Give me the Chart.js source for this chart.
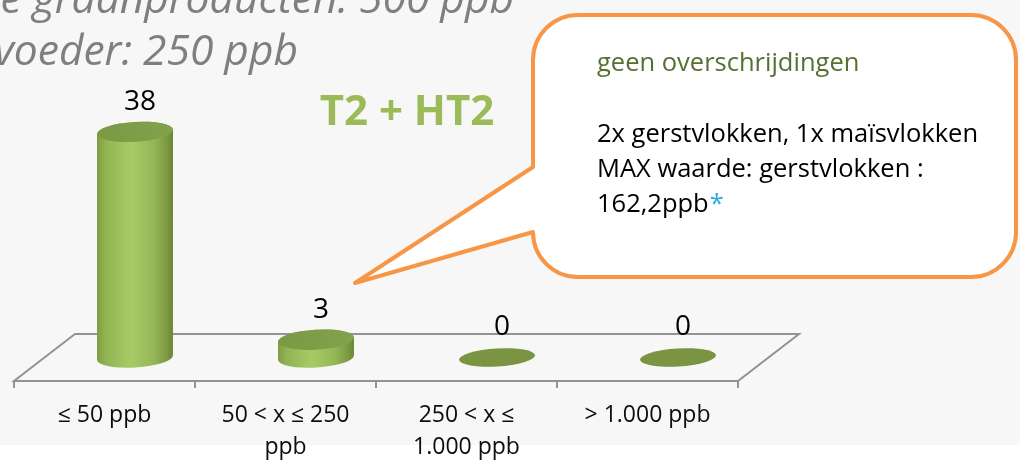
<!DOCTYPE html>
<html>
<head>
<meta charset="utf-8">
<script src="https://cdn.jsdelivr.net/npm/chart.js@4/dist/chart.umd.min.js"></script>
<style>
  html, body { margin: 0; padding: 0; background: #ffffff; overflow: hidden; }
  canvas { display: block; }
</style>
</head>
<body>
<canvas id="c" width="1020" height="460"></canvas>
<script>
// ---------- data ----------
const categories = [['≤ 50 ppb'], ['50 < x ≤ 250', 'ppb'], ['250 < x ≤', '1.000 ppb'], ['> 1.000 ppb']];
const counts = [38, 3, 0, 0];
const yRange = [0, 40];
const headerLines = ['Overige graanproducten: 500 ppb', 'Diervoeder: 250 ppb'];
const chartTitle = 'T2 + HT2';
const calloutHeading = 'geen overschrijdingen';
const calloutLines = ['2x gerstvlokken, 1x maïsvlokken', 'MAX waarde: gerstvlokken :', '162,2ppb'];
const calloutMark = '*';

// ---------- style ----------
const BG = '#f7f7f7';
const FLOOR = '#939393';
const DEPTH_X = 61, DEPTH_Y = 47;
const ELL_RY = 10, ELL_ROT = -0.06;
const FONT = '"Open Sans", "DejaVu Sans", sans-serif';

function ellipsePath(ctx, cx, cy, rx, ry) {
  ctx.beginPath();
  ctx.ellipse(cx, cy, rx, ry, ELL_ROT, 0, Math.PI * 2);
  ctx.closePath();
}

const scene = {
  id: 'scene',
  beforeDraw(chart) {
    const ctx = chart.ctx, W = chart.width, H = chart.height;
    const xs = chart.scales.x, ys = chart.scales.y;
    ctx.save();
    ctx.fillStyle = '#ffffff';
    ctx.fillRect(0, 0, W, H);
    ctx.fillStyle = BG;
    ctx.fillRect(0, 0, W, 445);

    // 3D floor
    const base = ys.getPixelForValue(0);
    const L = xs.left, R = xs.right;
    const yf = base + DEPTH_Y / 2, yb = base - DEPTH_Y / 2;
    ctx.strokeStyle = FLOOR;
    ctx.lineWidth = 2;
    ctx.lineJoin = 'miter';
    ctx.beginPath();
    ctx.moveTo(L, yf);
    ctx.lineTo(L + DEPTH_X, yb);
    ctx.lineTo(R + DEPTH_X, yb);
    ctx.lineTo(R, yf);
    ctx.closePath();
    ctx.stroke();
    // ticks at category boundaries
    const n = categories.length;
    const cw = (R - L) / n;
    ctx.beginPath();
    for (let i = 0; i <= n; i++) {
      const x = (i < n ? xs.getPixelForValue(i) - cw / 2 : xs.getPixelForValue(n - 1) + cw / 2);
      ctx.moveTo(x, yf);
      ctx.lineTo(x, yf + 7);
    }
    ctx.stroke();

    // category labels
    ctx.fillStyle = '#0d0d0d';
    ctx.font = '23px ' + FONT;
    ctx.textAlign = 'center';
    ctx.textBaseline = 'middle';
    categories.forEach((lines, i) => {
      const x = xs.getPixelForValue(i);
      lines.forEach((t, k) => ctx.fillText(t, x, 415 + k * 32));
    });
    ctx.restore();
  },
  afterDatasetsDraw(chart) {
    const ctx = chart.ctx;
    const meta = chart.getDatasetMeta(0);
    ctx.save();
    meta.data.forEach((el, i) => {
      const v = counts[i];
      const cx = el.x + DEPTH_X / 2;
      const rx = el.width / 2;
      const top = el.y, bottom = el.base;
      if (v > 0) {
        const g = ctx.createLinearGradient(cx - rx, 0, cx + rx, 0);
        g.addColorStop(0, '#7f9c44');
        g.addColorStop(0.12, '#93b453');
        g.addColorStop(0.45, '#a8ca66');
        g.addColorStop(0.75, '#95b655');
        g.addColorStop(0.92, '#7c9942');
        g.addColorStop(1, '#6a8534');
        ctx.beginPath();
        ctx.moveTo(cx - rx, top);
        ctx.lineTo(cx - rx, bottom);
        ctx.ellipse(cx, bottom, rx, ELL_RY, ELL_ROT, Math.PI, 0, true);
        ctx.lineTo(cx + rx, top);
        ctx.ellipse(cx, top, rx, ELL_RY, ELL_ROT, 0, Math.PI, true);
        ctx.closePath();
        ctx.fillStyle = g;
        ctx.fill();
        const gt = ctx.createLinearGradient(cx - rx, top, cx + rx, top);
        gt.addColorStop(0, '#7b9843');
        gt.addColorStop(1, '#84a14b');
        ellipsePath(ctx, cx, top, rx, ELL_RY);
        ctx.fillStyle = gt;
        ctx.fill();
      } else {
        ellipsePath(ctx, cx, bottom, rx, ELL_RY - 1);
        ctx.fillStyle = '#7a9441';
        ctx.fill();
      }
      // value label
      ctx.fillStyle = '#000000';
      ctx.font = '28px ' + FONT;
      ctx.textAlign = 'center';
      ctx.textBaseline = 'middle';
      ctx.fillText(String(v), cx + 5, top - 30);
    });
    ctx.restore();
  },
  afterDraw(chart) {
    const ctx = chart.ctx;
    ctx.save();
    // header text (partly cut off)
    ctx.fillStyle = '#7f7f7f';
    ctx.font = 'italic 42.5px ' + FONT;
    ctx.textAlign = 'right';
    ctx.textBaseline = 'alphabetic';
    ctx.fillText(headerLines[0], 514, 13);
    ctx.fillText(headerLines[1], 298, 65);

    // chart title
    ctx.fillStyle = '#9bbb59';
    ctx.font = 'bold 42px ' + FONT;
    ctx.textAlign = 'center';
    ctx.fillText(chartTitle, 407, 125);

    // callout
    const x0 = 533, y0 = 15, x1 = 1016, y1 = 277, r = 45;
    ctx.beginPath();
    ctx.moveTo(x0 + r, y0);
    ctx.lineTo(x1 - r, y0);
    ctx.arcTo(x1, y0, x1, y0 + r, r);
    ctx.lineTo(x1, y1 - r);
    ctx.arcTo(x1, y1, x1 - r, y1, r);
    ctx.lineTo(x0 + r, y1);
    ctx.arcTo(x0, y1, x0, y1 - r, r);
    ctx.lineTo(355, 283);
    ctx.lineTo(x0, 167);
    ctx.lineTo(x0, y0 + r);
    ctx.arcTo(x0, y0, x0 + r, y0, r);
    ctx.closePath();
    ctx.fillStyle = '#ffffff';
    ctx.fill();
    ctx.strokeStyle = '#f79646';
    ctx.lineWidth = 4;
    ctx.lineJoin = 'round';
    ctx.stroke();

    ctx.textAlign = 'left';
    ctx.font = '25.5px ' + FONT;
    ctx.fillStyle = '#557030';
    ctx.fillText(calloutHeading, 597, 71);
    ctx.fillStyle = '#000000';
    calloutLines.forEach((t, k) => ctx.fillText(t, 597, 142 + k * 35));
    const w = ctx.measureText(calloutLines[calloutLines.length - 1]).width;
    ctx.fillStyle = '#29a9de';
    ctx.fillText(calloutMark, 597 + w + 1, 142 + (calloutLines.length - 1) * 35);
    ctx.restore();
  }
};

function build() {
  new Chart(document.getElementById('c'), {
    type: 'bar',
    data: {
      labels: categories,
      datasets: [{
        data: counts,
        backgroundColor: 'rgba(0,0,0,0)',
        borderWidth: 0,
        barPercentage: 0.42,
        categoryPercentage: 1
      }]
    },
    options: {
      responsive: false,
      devicePixelRatio: 1,
      animation: false,
      layout: { padding: { left: 14, right: 282, top: 120, bottom: 102.5 } },
      plugins: { legend: { display: false }, tooltip: { enabled: false } },
      scales: {
        x: { display: false },
        y: { display: false, min: yRange[0], max: yRange[1] }
      }
    },
    plugins: [scene]
  });
}

const fontLoads = ['23px "Open Sans"', 'italic 42.5px "Open Sans"', 'bold 42px "Open Sans"']
  .map(f => document.fonts ? document.fonts.load(f).catch(() => null) : Promise.resolve());
Promise.all(fontLoads).then(build, build);
</script>
</body>
</html>
